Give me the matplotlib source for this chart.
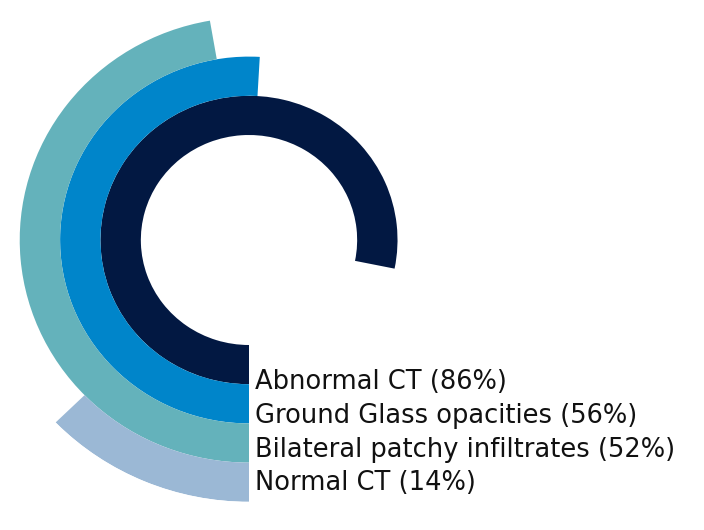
import numpy as np
import matplotlib
matplotlib.use("Agg")
import matplotlib.pyplot as plt

# data
labels = ["Abnormal CT", "Ground Glass opacities", "Bilateral patchy infiltrates", "Normal CT"]
values = [86, 56, 52, 14]
colors = ["#021842", "#0085CA", "#64B2BB", "#9BB8D5"]
SCALE_MAX = 110  # full circle corresponds to this value

HOLE = 105
WIDTH = 39.2

plt.rcParams["font.family"] = ["DejaVu Sans"]

W, H = 704, 530
fig = plt.figure(figsize=(W / 100, H / 100), dpi=100)

cx, cy = 249, 240          # centre in pixels (from top-left)
rmax = HOLE + WIDTH * len(values)
rx, ry = rmax * 1.03, rmax  # slight horizontal stretch
ax = fig.add_axes([(cx - rx) / W, (H - cy - ry) / H, 2 * rx / W, 2 * ry / H], projection="polar")
ax.set_aspect("auto")
ax.set_theta_zero_location("S")
ax.set_theta_direction(-1)
ax.set_ylim(0, rmax)
ax.axis("off")

for i, (v, c) in enumerate(zip(values, colors)):
    theta = np.radians(v / SCALE_MAX * 360)
    ax.bar(theta / 2, WIDTH, width=theta, bottom=HOLE + i * WIDTH,
           color=c, edgecolor="none", align="center", linewidth=0)

for i, (lab, v) in enumerate(zip(labels, values)):
    fig.text(255 / W, 1 - (382 + i * 33.8) / H, f"{lab} ({v}%)",
             fontsize=18.5, color="#111111", va="center", ha="left")

fig.savefig("out.png", dpi=100)
